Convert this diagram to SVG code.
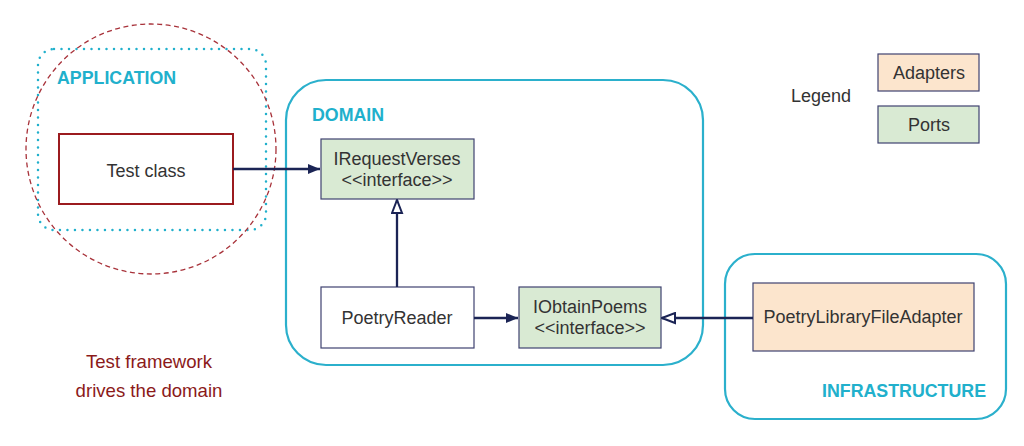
<svg xmlns="http://www.w3.org/2000/svg" width="1024" height="446" viewBox="0 0 1024 446">
<style>
.lbl{font-family:"Liberation Sans",Arial,sans-serif;font-size:18px;fill:#333;text-anchor:middle}
.zone{font-family:"Liberation Sans",Arial,sans-serif;font-size:17.8px;font-weight:bold;fill:#21b0cc}
.port{fill:#d9ead3;stroke:#3f4270;stroke-width:1.2}
.adapter{fill:#fce5cd;stroke:#3f4270;stroke-width:1.2}
.plain{fill:#fff;stroke:#3f4270;stroke-width:1.2}
.conn{stroke:#1b2455;stroke-width:2.3;fill:none}
.red{font-family:"Liberation Sans",Arial,sans-serif;font-size:18.6px;fill:#8b1a1a;text-anchor:middle}
</style>
<defs>
<marker id="filled" viewBox="0 0 12 10" refX="12" refY="5" markerWidth="12" markerHeight="10" orient="auto" markerUnits="userSpaceOnUse">
<path d="M0,0 L12,5 L0,10 z" fill="#1b2455"/>
</marker>
<marker id="hollow" viewBox="0 0 15 13" refX="14" refY="6.5" markerWidth="15" markerHeight="13" orient="auto" markerUnits="userSpaceOnUse">
<path d="M1,1.5 L14,6.5 L1,11.5 z" fill="#fff" stroke="#1b2455" stroke-width="2"/>
</marker>
</defs>
<rect width="1024" height="446" fill="#fff"/>

<g id="application">
<rect x="38" y="49" width="228" height="181" rx="16" fill="none" stroke="#21b0cc" stroke-width="2.5" stroke-dasharray="0 7.5" stroke-linecap="round"/>
<text class="zone" x="57" y="84">APPLICATION</text>
</g>
<g id="test-framework">
<circle cx="151" cy="149" r="125" fill="none" stroke="#a8323a" stroke-width="1.3" stroke-dasharray="5 3.5"/>
<text class="red" x="149" y="368">Test framework</text>
<text class="red" x="149" y="397">drives the domain</text>
</g>
<g id="test-class">
<rect x="59" y="134" width="174" height="70" fill="#fff" stroke="#9b1b1f" stroke-width="2"/>
<text class="lbl" x="146" y="177">Test class</text>
</g>

<g id="domain">
<rect x="286" y="80" width="417" height="285" rx="40" fill="none" stroke="#2bb0cc" stroke-width="2.2"/>
<text class="zone" x="312" y="121">DOMAIN</text>
</g>
<g id="irequestverses">
<rect class="port" x="321" y="139" width="153" height="60"/>
<text class="lbl" x="397" y="165">IRequestVerses</text>
<text class="lbl" x="397" y="186">&lt;&lt;interface&gt;&gt;</text>
</g>
<g id="poetryreader">
<rect class="plain" x="321" y="287" width="153" height="61"/>
<text class="lbl" x="397" y="324">PoetryReader</text>
</g>
<g id="iobtainpoems">
<rect class="port" x="519" y="287" width="142" height="61"/>
<text class="lbl" x="590" y="313">IObtainPoems</text>
<text class="lbl" x="590" y="334">&lt;&lt;interface&gt;&gt;</text>
</g>

<g id="infrastructure">
<rect x="725" y="254" width="281" height="165" rx="30" fill="none" stroke="#2bb0cc" stroke-width="2.2"/>
<text class="zone" x="986" y="397" text-anchor="end">INFRASTRUCTURE</text>
</g>
<g id="poetrylibraryfileadapter">
<rect class="adapter" x="753" y="283" width="221" height="68"/>
<text class="lbl" x="863" y="323">PoetryLibraryFileAdapter</text>
</g>

<g id="legend">
<text class="lbl" x="821" y="102">Legend</text>
<rect class="adapter" x="878" y="54" width="101" height="37"/>
<text class="lbl" x="929" y="79">Adapters</text>
<rect class="port" x="878" y="106" width="101" height="37"/>
<text class="lbl" x="929" y="131">Ports</text>
</g>

<g id="connectors">
<line class="conn" x1="233" y1="169" x2="320" y2="169" marker-end="url(#filled)"/>
<line class="conn" x1="397" y1="287" x2="397" y2="200" marker-end="url(#hollow)"/>
<line class="conn" x1="474" y1="318" x2="518" y2="318" marker-end="url(#filled)"/>
<line class="conn" x1="753" y1="318" x2="662" y2="318" marker-end="url(#hollow)"/>
</g>
</svg>
